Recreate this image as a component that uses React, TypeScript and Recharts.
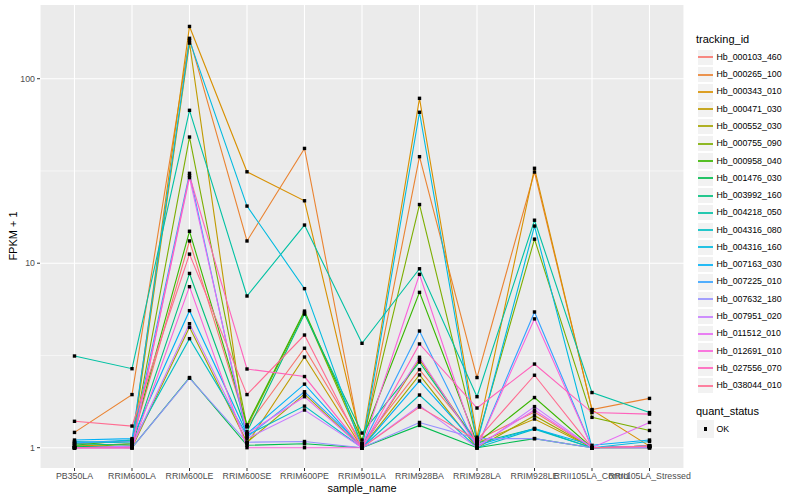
import { LineChart, Line, XAxis, YAxis, CartesianGrid } from 'recharts'

const categories = [
  'PB350LA',
  'RRIM600LA',
  'RRIM600LE',
  'RRIM600SE',
  'RRIM600PE',
  'RRIM901LA',
  'RRIM928BA',
  'RRIM928LA',
  'RRIM928LE',
  'RRII105LA_Control',
  'RRII105LA_Stressed',
]

const trackingIds = [
  'Hb_000103_460',
  'Hb_000265_100',
  'Hb_000343_010',
  'Hb_000471_030',
  'Hb_000552_030',
  'Hb_000755_090',
  'Hb_000958_040',
  'Hb_001476_030',
  'Hb_003992_160',
  'Hb_004218_050',
  'Hb_004316_080',
  'Hb_004316_160',
  'Hb_007163_030',
  'Hb_007225_010',
  'Hb_007632_180',
  'Hb_007951_020',
  'Hb_011512_010',
  'Hb_012691_010',
  'Hb_027556_070',
  'Hb_038044_010',
]

const colors = [
  '#F8766D', '#EA8331', '#D89000', '#C09B00', '#A3A500',
  '#7CAE00', '#39B600', '#00BB4E', '#00BF7D', '#00C1A3',
  '#00BFC4', '#00BAE0', '#00B0F6', '#35A2FF', '#9590FF',
  '#C77CFF', '#E76BF3', '#FA62DB', '#FF62BC', '#FF6C91',
]

// FPKM + 1, one list per tracking_id, in category order
const hb000103_460 = [1.05, 1.08, 13.2, 1.3, 3.46, 1.05, 2.65, 1.1, 1.56, 1.0, 1.02]
const hb000265_100 = [1.21, 1.94, 165.6, 13.2, 41.9, 1.0, 37.8, 2.4, 31.2, 1.61, 1.85]
const hb000343_010 = [1.02, 1.05, 192, 31.3, 21.8, 1.05, 78.3, 1.14, 32.7, 1.6, 1.02]
const hb000471_030 = [1.0, 1.02, 156, 1.05, 3.1, 1.0, 3.01, 1.06, 1.43, 1.0, 1.0]
const hb000552_030 = [1.0, 1.0, 4.49, 1.07, 1.95, 1.0, 2.48, 1.0, 1.49, 1.0, 1.02]
const hb000755_090 = [1.0, 1.05, 48.3, 1.3, 5.4, 1.05, 20.8, 1.1, 13.5, 1.46, 1.24]
const hb000958_040 = [1.03, 1.1, 14.9, 1.33, 5.5, 1.1, 6.95, 1.06, 1.87, 1.0, 1.02]
const hb001476_030 = [1.02, 1.0, 2.4, 1.03, 1.05, 1.0, 1.32, 1.0, 1.12, 1.0, 1.0]
const hb003992_160 = [1.05, 1.03, 8.8, 1.22, 5.3, 1.2, 2.91, 1.06, 1.27, 1.0, 1.02]
const hb004218_050 = [3.14, 2.68, 67.4, 6.64, 16.1, 3.68, 9.33, 1.89, 17.1, 1.99, 1.55]
const hb004316_080 = [1.08, 1.06, 3.9, 1.17, 1.68, 1.0, 1.93, 1.0, 1.26, 1.0, 1.02]
const hb004316_160 = [1.06, 1.1, 161.5, 20.4, 7.28, 1.0, 65.8, 1.06, 15.9, 1.0, 1.08]
const hb007163_030 = [1.1, 1.12, 5.53, 1.19, 2.21, 1.0, 2.3, 1.03, 1.27, 1.03, 1.1]
const hb007225_010 = [1.07, 1.08, 30.7, 1.14, 2.01, 1.02, 4.29, 1.0, 5.44, 1.0, 1.02]
const hb007632_180 = [1.0, 1.0, 2.38, 1.07, 1.08, 1.0, 1.37, 1.12, 1.12, 1.0, 1.0]
const hb007951_020 = [1.0, 1.02, 4.7, 1.12, 1.6, 1.0, 1.69, 1.0, 1.67, 1.0, 1.0]
const hb011512_010 = [1.0, 1.0, 29.1, 1.19, 1.89, 1.0, 3.09, 1.02, 1.6, 1.0, 1.37]
const hb012691_010 = [1.0, 1.0, 7.46, 1.0, 1.0, 1.0, 8.7, 1.0, 4.99, 1.0, 1.02]
const hb027556_070 = [1.0, 1.0, 29.8, 2.67, 2.43, 1.0, 3.65, 1.64, 2.84, 1.55, 1.52]
const hb038044_010 = [1.39, 1.31, 11.2, 1.94, 4.08, 1.0, 1.66, 1.1, 2.47, 1.0, 1.02]

const seriesValues = [
  hb000103_460, hb000265_100, hb000343_010, hb000471_030, hb000552_030,
  hb000755_090, hb000958_040, hb001476_030, hb003992_160, hb004218_050,
  hb004316_080, hb004316_160, hb007163_030, hb007225_010, hb007632_180,
  hb007951_020, hb011512_010, hb012691_010, hb027556_070, hb038044_010,
]

const yTicks = [1, 10, 100]
const yMinor = [Math.sqrt(10), Math.sqrt(1000)]

const data = categories.map((c, i) => {
  const row: Record<string, string | number> = { sample_name: c }
  trackingIds.forEach((id, j) => {
    row[id] = seriesValues[j][i]
  })
  return row
})

const FONT = '"Liberation Sans", Arial, Helvetica, sans-serif'

const squareDot = (id: string) => (p: any) => (
  <rect
    key={`${id}-${p.index}`}
    x={p.cx - 1.7}
    y={p.cy - 1.7}
    width={3.4}
    height={3.4}
    fill="#000"
  />
)

function LegendBox() {
  const keyH = 17.28
  const top = 48.7
  return (
    <div style={{ position: 'absolute', left: 0, top: 0, fontFamily: FONT }}>
      <div style={{ position: 'absolute', left: 696, top: 33, fontSize: 11, whiteSpace: 'nowrap' }}>
        tracking_id
      </div>
      {trackingIds.map((id, i) => {
        const y0 = top + i * keyH
        return (
          <div key={id}>
            <div
              style={{
                position: 'absolute',
                left: 697,
                top: y0,
                width: 17.28,
                height: keyH,
                background: '#F2F2F2',
                boxSizing: 'border-box',
                border: '0.5px solid #fff',
              }}
            />
            <div
              style={{
                position: 'absolute',
                left: 698,
                top: Math.round(y0 + keyH / 2) - 1,
                width: 15,
                height: 2,
                background: colors[i],
                opacity: 0.85,
              }}
            />
            <div
              style={{
                position: 'absolute',
                left: 716.5,
                top: y0 + keyH / 2 - 5.5,
                fontSize: 8.8,
                lineHeight: '11px',
                color: '#000',
                whiteSpace: 'nowrap',
              }}
            >
              {id}
            </div>
          </div>
        )
      })}
      <div style={{ position: 'absolute', left: 696, top: 405, fontSize: 11, whiteSpace: 'nowrap' }}>
        quant_status
      </div>
      <div
        style={{
          position: 'absolute',
          left: 697,
          top: 420.4,
          width: 17.28,
          height: 17.28,
          background: '#F2F2F2',
        }}
      >
        <div
          style={{ position: 'absolute', left: 6.9, top: 6.9, width: 3.5, height: 3.5, background: '#000' }}
        />
      </div>
      <div
        style={{ position: 'absolute', left: 716.5, top: 423.5, fontSize: 8.8, lineHeight: '11px', whiteSpace: 'nowrap' }}
      >
        OK
      </div>
    </div>
  )
}

export default function App() {
  const tick = { fontSize: 8.8, fill: '#4D4D4D', fontFamily: FONT }
  return (
    <div style={{ position: 'absolute', left: 0, top: 0, width: 800, height: 500, background: '#fff' }}>
      <LineChart
        width={800}
        height={500}
        data={data}
        margin={{ top: 5, right: 116, bottom: 0, left: 0 }}
      >
        <CartesianGrid
          fill="#EBEBEB"
          stroke="#fff"
          strokeWidth={0.55}
          vertical={false}
          horizontalValues={yMinor}
        />
        <CartesianGrid
          stroke="#fff"
          strokeWidth={1.1}
          horizontalValues={yTicks}
        />
        <XAxis
          dataKey="sample_name"
          interval={0}
          padding={{ left: 34.5, right: 34.5 }}
          height={32}
          tick={tick}
          tickSize={3}
          tickMargin={2}
          tickLine={{ stroke: '#333333' }}
          axisLine={false}
        />
        <YAxis
          type="number"
          scale="log"
          domain={[0.776, 251]}
          allowDataOverflow
          ticks={yTicks}
          tickFormatter={v => String(v)}
          width={40}
          tick={tick}
          tickSize={3}
          tickMargin={2}
          tickLine={{ stroke: '#333333' }}
          axisLine={false}
        />
        {trackingIds.map((id, i) => (
          <Line
            key={id}
            dataKey={id}
            type="linear"
            stroke={colors[i]}
            strokeWidth={1.1}
            dot={false}
            activeDot={false}
            isAnimationActive={false}
          />
        ))}
        {trackingIds.map(id => (
          <Line
            key={`${id}-pts`}
            dataKey={id}
            type="linear"
            stroke="none"
            dot={squareDot(id)}
            activeDot={false}
            legendType="none"
            isAnimationActive={false}
          />
        ))}
      </LineChart>
      <div
        style={{
          position: 'absolute',
          left: 362,
          top: 482,
          transform: 'translateX(-50%)',
          fontFamily: FONT,
          fontSize: 11,
          whiteSpace: 'nowrap',
        }}
      >
        sample_name
      </div>
      <div
        style={{
          position: 'absolute',
          left: 13,
          top: 236,
          transform: 'translate(-50%, -50%) rotate(-90deg)',
          fontFamily: FONT,
          fontSize: 11,
          whiteSpace: 'nowrap',
        }}
      >
        FPKM + 1
      </div>
      <LegendBox />
    </div>
  )
}
